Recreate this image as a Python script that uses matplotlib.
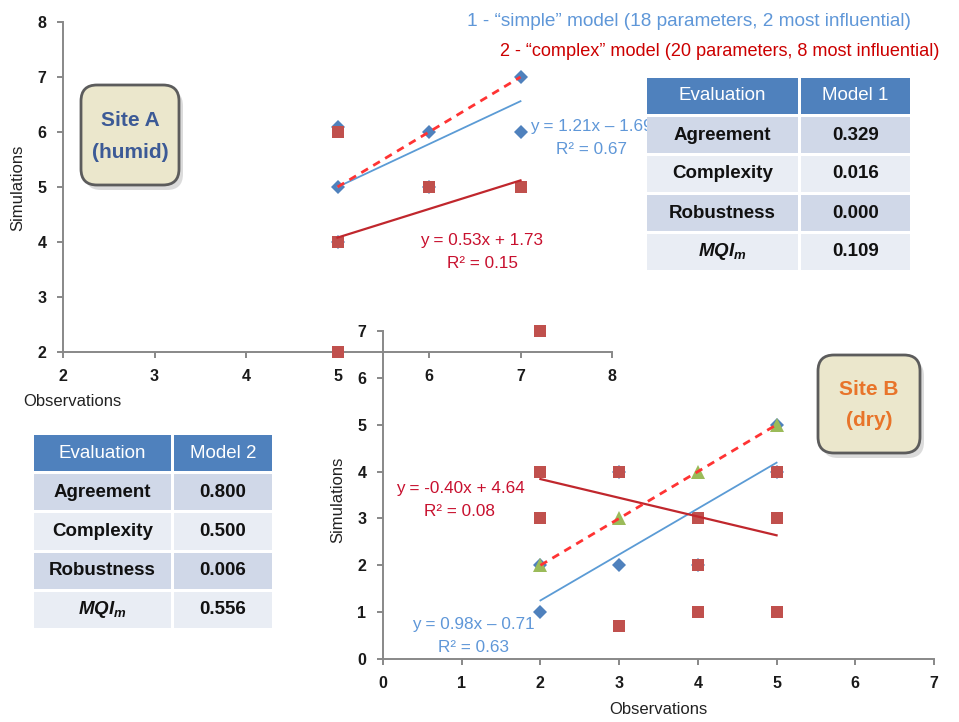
import matplotlib
matplotlib.use("Agg")
import matplotlib.pyplot as plt
from matplotlib.patches import FancyBboxPatch, Rectangle

plt.rcParams['font.family'] = ['Liberation Sans', 'DejaVu Sans']
plt.rcParams['mathtext.fontset'] = 'custom'
plt.rcParams['mathtext.it'] = 'Liberation Sans:italic:bold'
plt.rcParams['mathtext.rm'] = 'Liberation Sans:bold'
plt.rcParams['mathtext.bf'] = 'Liberation Sans:bold'

# ---------------- data ----------------
# Site A (humid)
site_a_obs_m1 = [5, 5, 5, 6, 6, 7, 7]
site_a_sim_m1 = [5, 6.1, 4, 6, 5, 7, 6]
site_a_obs_m2 = [5, 5, 5, 6, 7]
site_a_sim_m2 = [6, 4, 2, 5, 5]
site_a_fit_m1 = [0.78, 1.10]      # slope, intercept of drawn trend line
site_a_fit_m2 = [0.52, 1.48]
site_a_eq_m1 = ["y = 1.21x – 1.69", "R² = 0.67"]
site_a_eq_m2 = ["y = 0.53x + 1.73", "R² = 0.15"]

# Site B (dry)
site_b_obs_m1 = [2, 2, 3, 3, 4, 5, 5]
site_b_sim_m1 = [1, 2, 2, 4, 2, 4, 5]
site_b_obs_m2 = [2, 2, 2, 3, 3, 4, 4, 4, 5, 5, 5]
site_b_sim_m2 = [4, 3, 7, 4, 0.7, 3, 2, 1, 4, 3, 1]
site_b_obs_ref = [2, 3, 4, 5]
site_b_sim_ref = [2, 3, 4, 5]
site_b_fit_m1 = [0.98, -0.71]
site_b_fit_m2 = [-0.40, 4.64]
site_b_eq_m1 = ["y = 0.98x – 0.71", "R² = 0.63"]
site_b_eq_m2 = ["y = -0.40x + 4.64", "R² = 0.08"]

site_a_ticks = [2, 3, 4, 5, 6, 7, 8]
site_b_ticks = [0, 1, 2, 3, 4, 5, 6, 7]

table_criteria = ["Agreement", "Complexity", "Robustness", "$MQI_m$"]
model1_scores = [0.329, 0.016, 0.000, 0.109]
model2_scores = [0.800, 0.500, 0.006, 0.556]

title_m1 = "1 - \u201csimple\u201d model (18 parameters, 2 most influential)"
title_m2 = "2 - \u201ccomplex\u201d model (20 parameters, 8 most influential)"

# ---------------- styles ----------------
C_DIAM = '#4f81bd'
C_SQ = '#c0504d'
C_TRI = '#9bbb59'
C_BLUE_LINE = '#5b9bd5'
C_RED_LINE = '#c0272d'
C_DASH = '#ff3333'
C_BLUE_TXT = '#5f97d8'
C_RED_TXT = '#c8102e'
SPINE = '#888888'

W, H = 959, 722
fig = plt.figure(figsize=(W / 100, H / 100), dpi=100)
fig.patch.set_facecolor('white')


def px_axes(x0, x1, ytop, ybot):
    return fig.add_axes([x0 / W, 1 - ybot / H, (x1 - x0) / W, (ybot - ytop) / H])


def style_axes(ax, ticks_x, ticks_y, xpad, ypad):
    ax.set_facecolor('none')
    for s in ['top', 'right']:
        ax.spines[s].set_visible(False)
    for s in ['left', 'bottom']:
        ax.spines[s].set_color(SPINE)
        ax.spines[s].set_linewidth(1.4)
    ax.set_xticks(ticks_x)
    ax.set_yticks(ticks_y)
    ax.tick_params(axis='both', direction='out', length=4, width=1.4, color=SPINE,
                   labelsize=11.5, labelcolor='#1a1a1a')
    ax.tick_params(axis='x', pad=xpad)
    ax.tick_params(axis='y', pad=ypad)
    for lab in ax.get_xticklabels() + ax.get_yticklabels():
        lab.set_fontweight('bold')


def trend(ax, obs, fit, **kw):
    xs = [min(obs), max(obs)]
    ys = [fit[0] * x + fit[1] for x in xs]
    ax.plot(xs, ys, **kw)


# ---------------- Site A axes ----------------
ax1 = px_axes(63, 612, 22, 352)
ax1.set_xlim(2, 8)
ax1.set_ylim(2, 8)
style_axes(ax1, site_a_ticks, site_a_ticks, 8, 8)
ax1.plot(site_a_obs_m1, site_a_sim_m1, 'D', color=C_DIAM, ms=7.4, mew=0, zorder=3, clip_on=False)
ax1.plot(site_a_obs_m2, site_a_sim_m2, 's', color=C_SQ, ms=9, mew=0, zorder=4, clip_on=False)
trend(ax1, site_a_obs_m1, site_a_fit_m1, color=C_BLUE_LINE, lw=1.3, zorder=5)
trend(ax1, site_a_obs_m2, site_a_fit_m2, color=C_RED_LINE, lw=1.6, zorder=5)
ax1.plot([min(site_a_obs_m1), max(site_a_obs_m1)], [min(site_a_obs_m1), max(site_a_obs_m1)],
         color=C_DASH, lw=2.0, ls=(0, (2.8, 2.2)), zorder=5)

# ---------------- Site B axes ----------------
ax2 = px_axes(383, 934, 331, 659)
ax2.set_xlim(0, 7)
ax2.set_ylim(0, 7)
style_axes(ax2, site_b_ticks, site_b_ticks, 8, 8)
ax2.plot(site_b_obs_m1, site_b_sim_m1, 'D', color=C_DIAM, ms=7.4, mew=0, zorder=3, clip_on=False)
ax2.plot(site_b_obs_m2, site_b_sim_m2, 's', color=C_SQ, ms=9, mew=0, zorder=4, clip_on=False)
ax2.plot(site_b_obs_ref, site_b_sim_ref, '^', color=C_TRI, ms=9.5, mew=0, zorder=4, clip_on=False)
trend(ax2, site_b_obs_m1, site_b_fit_m1, color=C_BLUE_LINE, lw=1.3, zorder=5)
trend(ax2, site_b_obs_m2, site_b_fit_m2, color=C_RED_LINE, lw=1.6, zorder=5)
ax2.plot([min(site_b_obs_ref), max(site_b_obs_ref)], [min(site_b_sim_ref), max(site_b_sim_ref)],
         color=C_DASH, lw=2.0, ls=(0, (2.8, 2.2)), zorder=5)

# ---------------- overlay (pixel coordinates) ----------------
ov = fig.add_axes([0, 0, 1, 1])
ov.set_xlim(0, W)
ov.set_ylim(H, 0)
ov.axis('off')
ov.set_facecolor('none')

# axis titles
ov.text(72, 402, "Observations", ha='center', va='center', fontsize=12, color='#222222')
ov.text(18, 188, "Simulations", ha='center', va='center', fontsize=12, rotation=90, color='#222222')
ov.text(658, 710, "Observations", ha='center', va='center', fontsize=12, color='#222222')
ov.text(338, 500, "Simulations", ha='center', va='center', fontsize=12, rotation=90, color='#222222')

# model titles
ov.text(467, 22, title_m1, ha='left', va='center', fontsize=13.7, color=C_BLUE_TXT)
ov.text(500, 52, title_m2, ha='left', va='center', fontsize=13.1, color='#cc0000')

# equations
def eq(lines, cx, y1, y2, color):
    ov.text(cx, y1, lines[0], ha='center', va='center', fontsize=12.3, color=color, zorder=2)
    ov.text(cx, y2, lines[1], ha='center', va='center', fontsize=12.3, color=color, zorder=2)

eq(site_a_eq_m1, 591, 126, 149, C_BLUE_TXT)
eq(site_a_eq_m2, 482, 240, 264, C_RED_TXT)
eq(site_b_eq_m2, 460, 488, 512, C_RED_TXT)
eq(site_b_eq_m1, 473, 625, 648, C_BLUE_TXT)

# site boxes
def site_box(x0, x1, y0, y1, lines, color):
    sh = FancyBboxPatch((x0 + 4, y0 + 5), x1 - x0, y1 - y0,
                        boxstyle="round,pad=0,rounding_size=16",
                        fc='#9a9a9a', ec='none', alpha=0.35, zorder=6)
    ov.add_patch(sh)
    bx = FancyBboxPatch((x0, y0), x1 - x0, y1 - y0,
                        boxstyle="round,pad=0,rounding_size=16",
                        fc='#ebe7cc', ec='#5c5c5c', lw=2.0, zorder=7)
    ov.add_patch(bx)
    cx = (x0 + x1) / 2
    ov.text(cx, y0 + 0.35 * (y1 - y0), lines[0], ha='center', va='center', fontsize=15,
            fontweight='bold', color=color, zorder=8)
    ov.text(cx, y0 + 0.67 * (y1 - y0), lines[1], ha='center', va='center', fontsize=15,
            fontweight='bold', color=color, zorder=8)

site_box(81, 179, 85, 185, ["Site A", "(humid)"], '#3c5a96')
site_box(818, 920, 355, 453, ["Site B", "(dry)"], '#e8742a')

# tables
def draw_table(x0, xs, x1, ytop, ybot, header, scores):
    gap = 3
    pitch = (ybot + gap - ytop) / 5
    fills = ['#4f81bd', '#d0d8e8', '#e9edf4', '#d0d8e8', '#e9edf4']
    rows = [header] + [[c, f"{v:.3f}"] for c, v in zip(table_criteria, scores)]
    for i, row in enumerate(rows):
        ya = ytop + i * pitch
        hh = pitch - gap
        ov.add_patch(Rectangle((x0, ya), xs - x0, hh, fc=fills[i], ec='none', zorder=10))
        ov.add_patch(Rectangle((xs + gap, ya), x1 - xs - gap, hh, fc=fills[i], ec='none', zorder=10))
        if i == 0:
            kw = dict(color='white', fontweight='normal')
        else:
            kw = dict(color='#111111', fontweight='bold')
        ov.text((x0 + xs) / 2, ya + hh / 2, row[0], ha='center', va='center', fontsize=13.5,
                zorder=11, **kw)
        ov.text((xs + gap + x1) / 2, ya + hh / 2, row[1], ha='center', va='center', fontsize=13.5,
                zorder=11, **kw)

draw_table(647, 798, 910, 78, 270, ["Evaluation", "Model 1"], model1_scores)
draw_table(34, 171, 272, 435, 628, ["Evaluation", "Model 2"], model2_scores)

fig.savefig("out.png", dpi=100)
